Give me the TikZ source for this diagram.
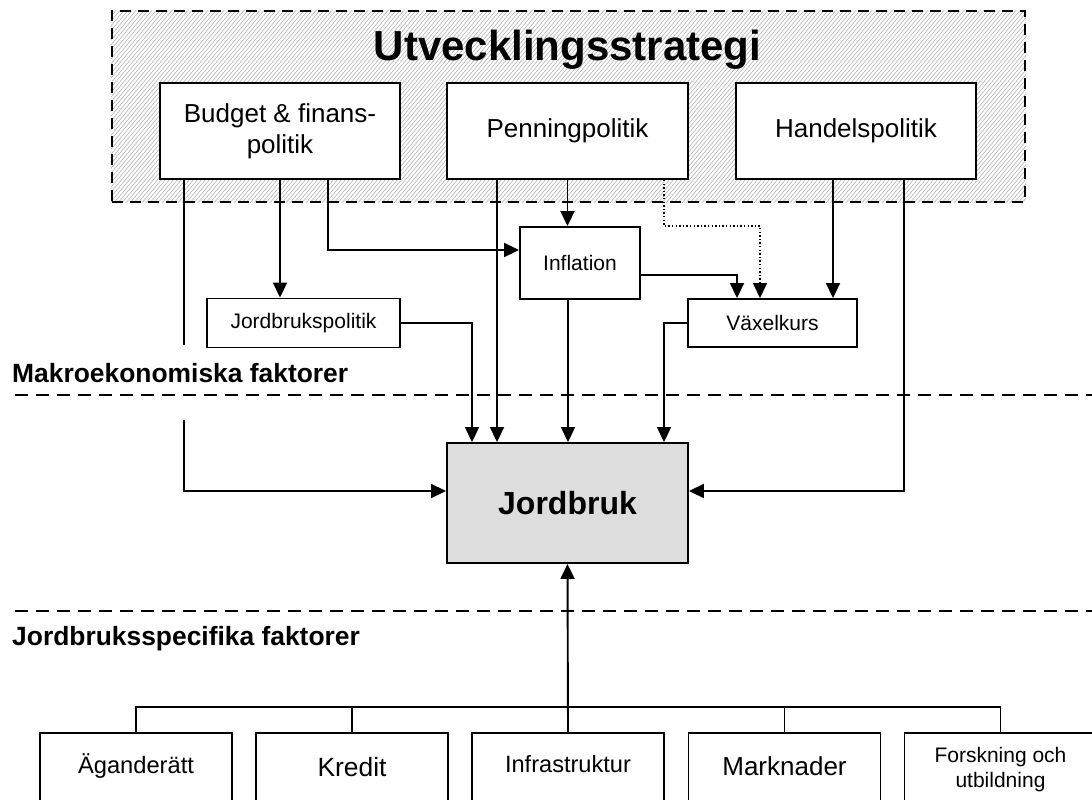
\documentclass[tikz,border=0pt]{standalone}
\usepackage{fontspec}
\setmainfont{Liberation Sans}
\usetikzlibrary{arrows.meta}
\begin{document}
\begin{tikzpicture}[x=1pt,y=-1pt,
  lw/.style={line width=1.9pt},
  arr/.style={lw,-{Triangle[length=15pt,width=14pt]}},
  dotarr/.style={line width=1.4pt,dash pattern=on 1.4pt off 2.2pt,-{Triangle[length=15pt,width=14pt]}},
  bigbox/.style={draw,lw,fill=white,inner sep=0pt,align=center,font=\fontsize{26}{31}\selectfont},
  smallbox/.style={draw,lw,fill=white,inner sep=0pt,align=center,font=\fontsize{21}{25}\selectfont},
  botbox/.style={draw,lw,fill=white,anchor=north,minimum width=192pt,minimum height=110pt,inner sep=0pt},
  secline/.style={lw,dash pattern=on 13pt off 8pt},
  seclabel/.style={anchor=base west,inner sep=0pt,font=\fontsize{26.4}{30}\selectfont\bfseries},
  btxt/.style={anchor=base,inner sep=0pt,align=center},
  hatch/.style={line width=0.6pt,draw=gray!60}
]
\useasboundingbox (0,0) rectangle (1092,800);
% strategy frame
\node[draw,lw,dash pattern=on 11pt off 7pt,
      minimum width=913pt,minimum height=191pt,inner sep=0pt] (strat) at (568.5,106.5) {};
\begin{scope}
  \clip (strat.south west) rectangle (strat.north east);
  \foreach \i in {-80,-76,...,1040} {
    \draw[hatch] (\i,210) -- ++(170,-202);
  }
\end{scope}
\node[draw,lw,dash pattern=on 11pt off 7pt,
      minimum width=913pt,minimum height=191pt,inner sep=0pt] (stratb) at (568.5,106.5) {};
\node[anchor=base,inner sep=0pt,font=\fontsize{42}{50}\selectfont\bfseries] (title) at (567.5,60) {Utvecklingsstrategi};
% policy boxes
\node[bigbox,minimum width=240pt,minimum height=96pt] (budget) at (280,131) {Budget \& finans-\\politik};
\node[bigbox,minimum width=241pt,minimum height=96pt] (penning) at (567.5,131) {Penningpolitik};
\node[bigbox,minimum width=240pt,minimum height=96pt] (handel) at (856,131) {Handelspolitik};
% middle boxes
\node[smallbox,minimum width=120pt,minimum height=72pt] (infl) at (580,263) {Inflation};
\node[smallbox,minimum width=169pt,minimum height=48pt] (vaxel) at (772.5,323) {Växelkurs};
\node[smallbox,minimum width=193pt,minimum height=49pt] (jpol) at (303.5,323) {Jordbrukspolitik};
% central box
\node[draw,lw,fill={rgb,255:red,221;green,221;blue,221},minimum width=241pt,minimum height=120pt,
      inner sep=0pt,font=\fontsize{32}{38}\selectfont\bfseries] (jord) at (567.5,503) {Jordbruk};
% section lines and labels
\coordinate (s1a) at (15,395); \coordinate (s1b) at (1092,395);
\coordinate (s2a) at (15,611); \coordinate (s2b) at (1092,611);
\draw[secline] (s1a) -- (s1b);
\draw[secline] (s2a) -- (s2b);
\node[seclabel] (mak) at (12,382) {Makroekonomiska faktorer};
\node[seclabel] (jsf) at (12,645) {Jordbruksspecifika faktorer};
% bottom boxes
\node[botbox] (b1) at (136,732) {};
\node[botbox] (b2) at (352,732) {};
\node[botbox] (b3) at (568,732) {};
\node[botbox] (b4) at (784.5,732) {};
\node[botbox] (b5) at (1000.5,732) {};
\node[btxt,font=\fontsize{23.7}{28}\selectfont] (t1) at (136,773) {Äganderätt};
\node[btxt,font=\fontsize{26.4}{30}\selectfont] (t2) at (352,776) {Kredit};
\node[btxt,font=\fontsize{23.6}{28}\selectfont] (t3) at (568,772) {Infrastruktur};
\node[btxt,font=\fontsize{26}{30}\selectfont] (t4) at (784.5,775) {Marknader};
\node[btxt,font=\fontsize{21}{25}\selectfont] (t5) at (1000.5,787) {Forskning och\\utbildning};
% connectors from Budget
\coordinate (gapA) at (184,345);
\coordinate (gapB) at (184,420);
\draw[lw] (budget.south -| gapA) -- (gapA);
\draw[arr] (gapB) |- ([yshift=12pt]jord.west);
\draw[arr] (budget.south) -- (budget.south |- jpol.north);
\draw[arr] ([xshift=48pt]budget.south) |- ([yshift=13pt]infl.west);
% connectors from Penningpolitik
\draw[arr] ([xshift=-70.5pt]penning.south) -- ([xshift=-70.5pt]penning.south |- jord.north);
\draw[arr] (penning.south) -- (penning.south |- infl.north);
\draw[dotarr] ([xshift=96.5pt]penning.south) -- ([xshift=96.5pt]penning.south |- infl.north) -| ([xshift=-12.5pt]vaxel.north);
% connectors from Handelspolitik
\draw[arr] ([xshift=-23pt]handel.south) -- ([xshift=-23pt]handel.south |- vaxel.north);
\draw[arr] ([xshift=48pt]handel.south) |- ([yshift=12pt]jord.east);
% middle connectors
\draw[arr] ([yshift=-12pt]infl.east) -| ([xshift=-35.5pt]vaxel.north);
\draw[arr] (jpol.east) -| ([xshift=-95.5pt]jord.north);
\draw[arr] ([xshift=-12pt]infl.south) -- ([xshift=-12pt]infl.south |- jord.north);
\draw[arr] (vaxel.west) -| ([xshift=96.5pt]jord.north);
% bottom bus
\coordinate (bus) at (568,707);
\draw[lw] (b1.north) -- (b1.north |- bus) -- (b5.north |- bus) -- (b5.north);
\draw[lw] (b2.north) -- (b2.north |- bus);
\draw[lw] (b4.north) -- (b4.north |- bus);
\draw[arr] (b3.north) -- (jord.south);
\end{tikzpicture}
\end{document}
